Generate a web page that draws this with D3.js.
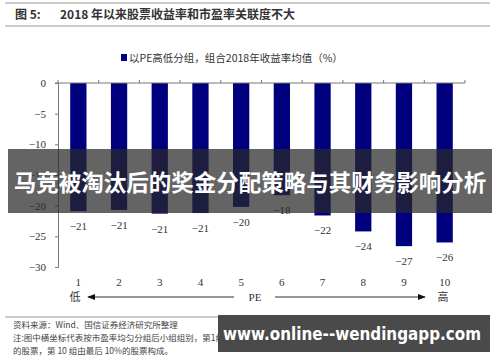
<!DOCTYPE html>
<html>
<head>
<meta charset="utf-8">
<style>
  body { margin: 0; background: #fff; }
  svg { display: block; }
  .serif { font-family: 'Liberation Serif', 'DejaVu Serif', serif; }
  .cjk { font-family: 'Noto Sans CJK SC', sans-serif; }
</style>
</head>
<body>
<svg width="500" height="362"></svg>
<script src="https://d3js.org/d3.v7.min.js"></script>
<script>
// data
const groups = ["1", "2", "3", "4", "5", "6", "7", "8", "9", "10"];
const returns = [-20.9, -20.7, -21.3, -21.2, -20.2, -18.3, -21.6, -24.2, -26.6, -26.0];
const yTicks = [0, -5, -10, -15, -20, -25, -30];
const titleText = "2018 年以来股票收益率和市盈率关联度不大";
const legendText = "以PE高低分组，组合2018年收益率均值（%）";
const noteLines = [
  "资料来源：Wind、国信证券经济研究所整理",
  "注:图中横坐标代表按市盈率均匀分组后小组组别，第1组由市盈率最低10%",
  "的股票，第 10 组由最后 10%的股票构成。"
];
const bannerText = "马竞被淘汰后的奖金分配策略与其财务影响分析";
const siteText = "www.online--wendingapp.com";

const svg = d3.select("svg");
const navy = "#00007f";

// header
svg.append("line").attr("x1", 5).attr("x2", 490).attr("y1", 3).attr("y2", 3)
  .attr("stroke", "#999").attr("stroke-width", 1);
svg.append("line").attr("x1", 5).attr("x2", 490).attr("y1", 26).attr("y2", 26)
  .attr("stroke", "#999").attr("stroke-width", 1);
svg.append("text").attr("class", "cjk").attr("x", 15).attr("y", 19)
  .attr("font-size", 12).attr("font-weight", "bold").attr("fill", "#333").text("图  5:");
svg.append("text").attr("class", "cjk").attr("x", 60).attr("y", 19)
  .attr("font-size", 12).attr("font-weight", "bold").attr("fill", "#333").text(titleText);

// legend
svg.append("rect").attr("x", 121).attr("y", 54).attr("width", 6).attr("height", 7).attr("fill", navy);
svg.append("text").attr("class", "cjk").attr("x", 129).attr("y", 62)
  .attr("font-size", 10.5).attr("fill", "#333").text(legendText);

// scales
const x = d3.scaleBand().domain(groups).range([58, 465]).paddingInner(0.6).paddingOuter(0.3);
const xb = d3.scaleBand().domain(groups).range([58, 465]);
const y = d3.scaleLinear().domain([-30, 0]).range([267, 83]);

// bars
svg.append("g").selectAll("rect").data(returns).join("rect")
  .attr("x", (d, i) => x(groups[i]))
  .attr("width", x.bandwidth())
  .attr("y", y(0))
  .attr("height", d => y(d) - y(0))
  .attr("fill", navy);

// value labels
svg.append("g").selectAll("text").data(returns).join("text")
  .attr("class", "serif")
  .attr("x", (d, i) => x(groups[i]) + x.bandwidth() / 2)
  .attr("y", d => y(d) + 19)
  .attr("text-anchor", "middle").attr("font-size", 11).attr("fill", "#333")
  .text(d => d3.format(".0f")(d).replace("-", "\u2212"));

// left axis
const yAxis = svg.append("g").attr("transform", "translate(58,0)")
  .call(d3.axisLeft(y).tickValues(yTicks).tickSize(3).tickFormat(d => String(d).replace("-", "\u2212")));
yAxis.select(".domain").attr("stroke", "#777");
yAxis.selectAll(".tick line").attr("stroke", "#777");
yAxis.selectAll("text").attr("class", "serif").attr("font-size", 11).attr("fill", "#333").attr("dx", -6);

// top (zero) axis with band boundary ticks
const zero = svg.append("g");
zero.append("line").attr("x1", 55).attr("x2", 465).attr("y1", y(0)).attr("y2", y(0))
  .attr("stroke", "#777");
zero.selectAll("line.tk").data(groups.concat(["end"])).join("line").attr("class", "tk")
  .attr("x1", (d, i) => 58 + i * xb.bandwidth()).attr("x2", (d, i) => 58 + i * xb.bandwidth())
  .attr("y1", y(0) - 3).attr("y2", y(0)).attr("stroke", "#777");

// category labels
svg.append("g").selectAll("text").data(groups).join("text")
  .attr("class", "serif")
  .attr("x", d => x(d) + x.bandwidth() / 2).attr("y", 286)
  .attr("text-anchor", "middle").attr("font-size", 11).attr("fill", "#333").text(d => d);

// low / PE / high arrow row
const ay = 297;
svg.append("defs").append("marker").attr("id", "ah").attr("viewBox", "0 0 10 10")
  .attr("refX", 9).attr("refY", 5).attr("markerWidth", 8).attr("markerHeight", 8)
  .attr("orient", "auto-start-reverse")
  .append("path").attr("d", "M0,1L10,5L0,9Z").attr("fill", "#111");
svg.append("line").attr("x1", 88).attr("x2", 234).attr("y1", ay).attr("y2", ay)
  .attr("stroke", "#333").attr("marker-start", "url(#ah)");
svg.append("line").attr("x1", 275).attr("x2", 425).attr("y1", ay).attr("y2", ay)
  .attr("stroke", "#333").attr("marker-end", "url(#ah)");
svg.append("text").attr("class", "cjk").attr("x", 75).attr("y", ay + 4)
  .attr("text-anchor", "middle").attr("font-size", 11).attr("fill", "#333").text("低");
svg.append("text").attr("class", "serif").attr("x", 255).attr("y", ay + 4)
  .attr("text-anchor", "middle").attr("font-size", 11).attr("fill", "#333").text("PE");
svg.append("text").attr("class", "cjk").attr("x", 443).attr("y", ay + 4)
  .attr("text-anchor", "middle").attr("font-size", 11).attr("fill", "#333").text("高");

// footer
svg.append("line").attr("x1", 5).attr("x2", 490).attr("y1", 317).attr("y2", 317)
  .attr("stroke", "#999");
svg.append("g").selectAll("text").data(noteLines).join("text")
  .attr("class", "cjk").attr("x", 13).attr("y", (d, i) => 328 + i * 13)
  .attr("font-size", 8.5).attr("fill", "#444").text(d => d);

// overlay banner
svg.append("rect").attr("x", 8).attr("y", 149).attr("width", 484).attr("height", 64)
  .attr("fill", "rgb(40,40,40)").attr("fill-opacity", 0.72);
svg.append("text").attr("class", "cjk").attr("x", 250).attr("y", 191)
  .attr("text-anchor", "middle").attr("font-size", 22.5).attr("font-weight", "bold")
  .attr("fill", "#fff").text(bannerText);

// site box
svg.append("rect").attr("x", 218).attr("y", 315).attr("width", 272).attr("height", 37)
  .attr("fill", "#4a4a4a");
svg.append("text").attr("x", 223).attr("y", 340)
  .attr("font-family", "'DejaVu Sans', sans-serif")
  .attr("font-size", 17).attr("font-weight", "bold").attr("fill", "#fff")
  .attr("textLength", 258).attr("lengthAdjust", "spacingAndGlyphs").text(siteText);
</script>
</body>
</html>
